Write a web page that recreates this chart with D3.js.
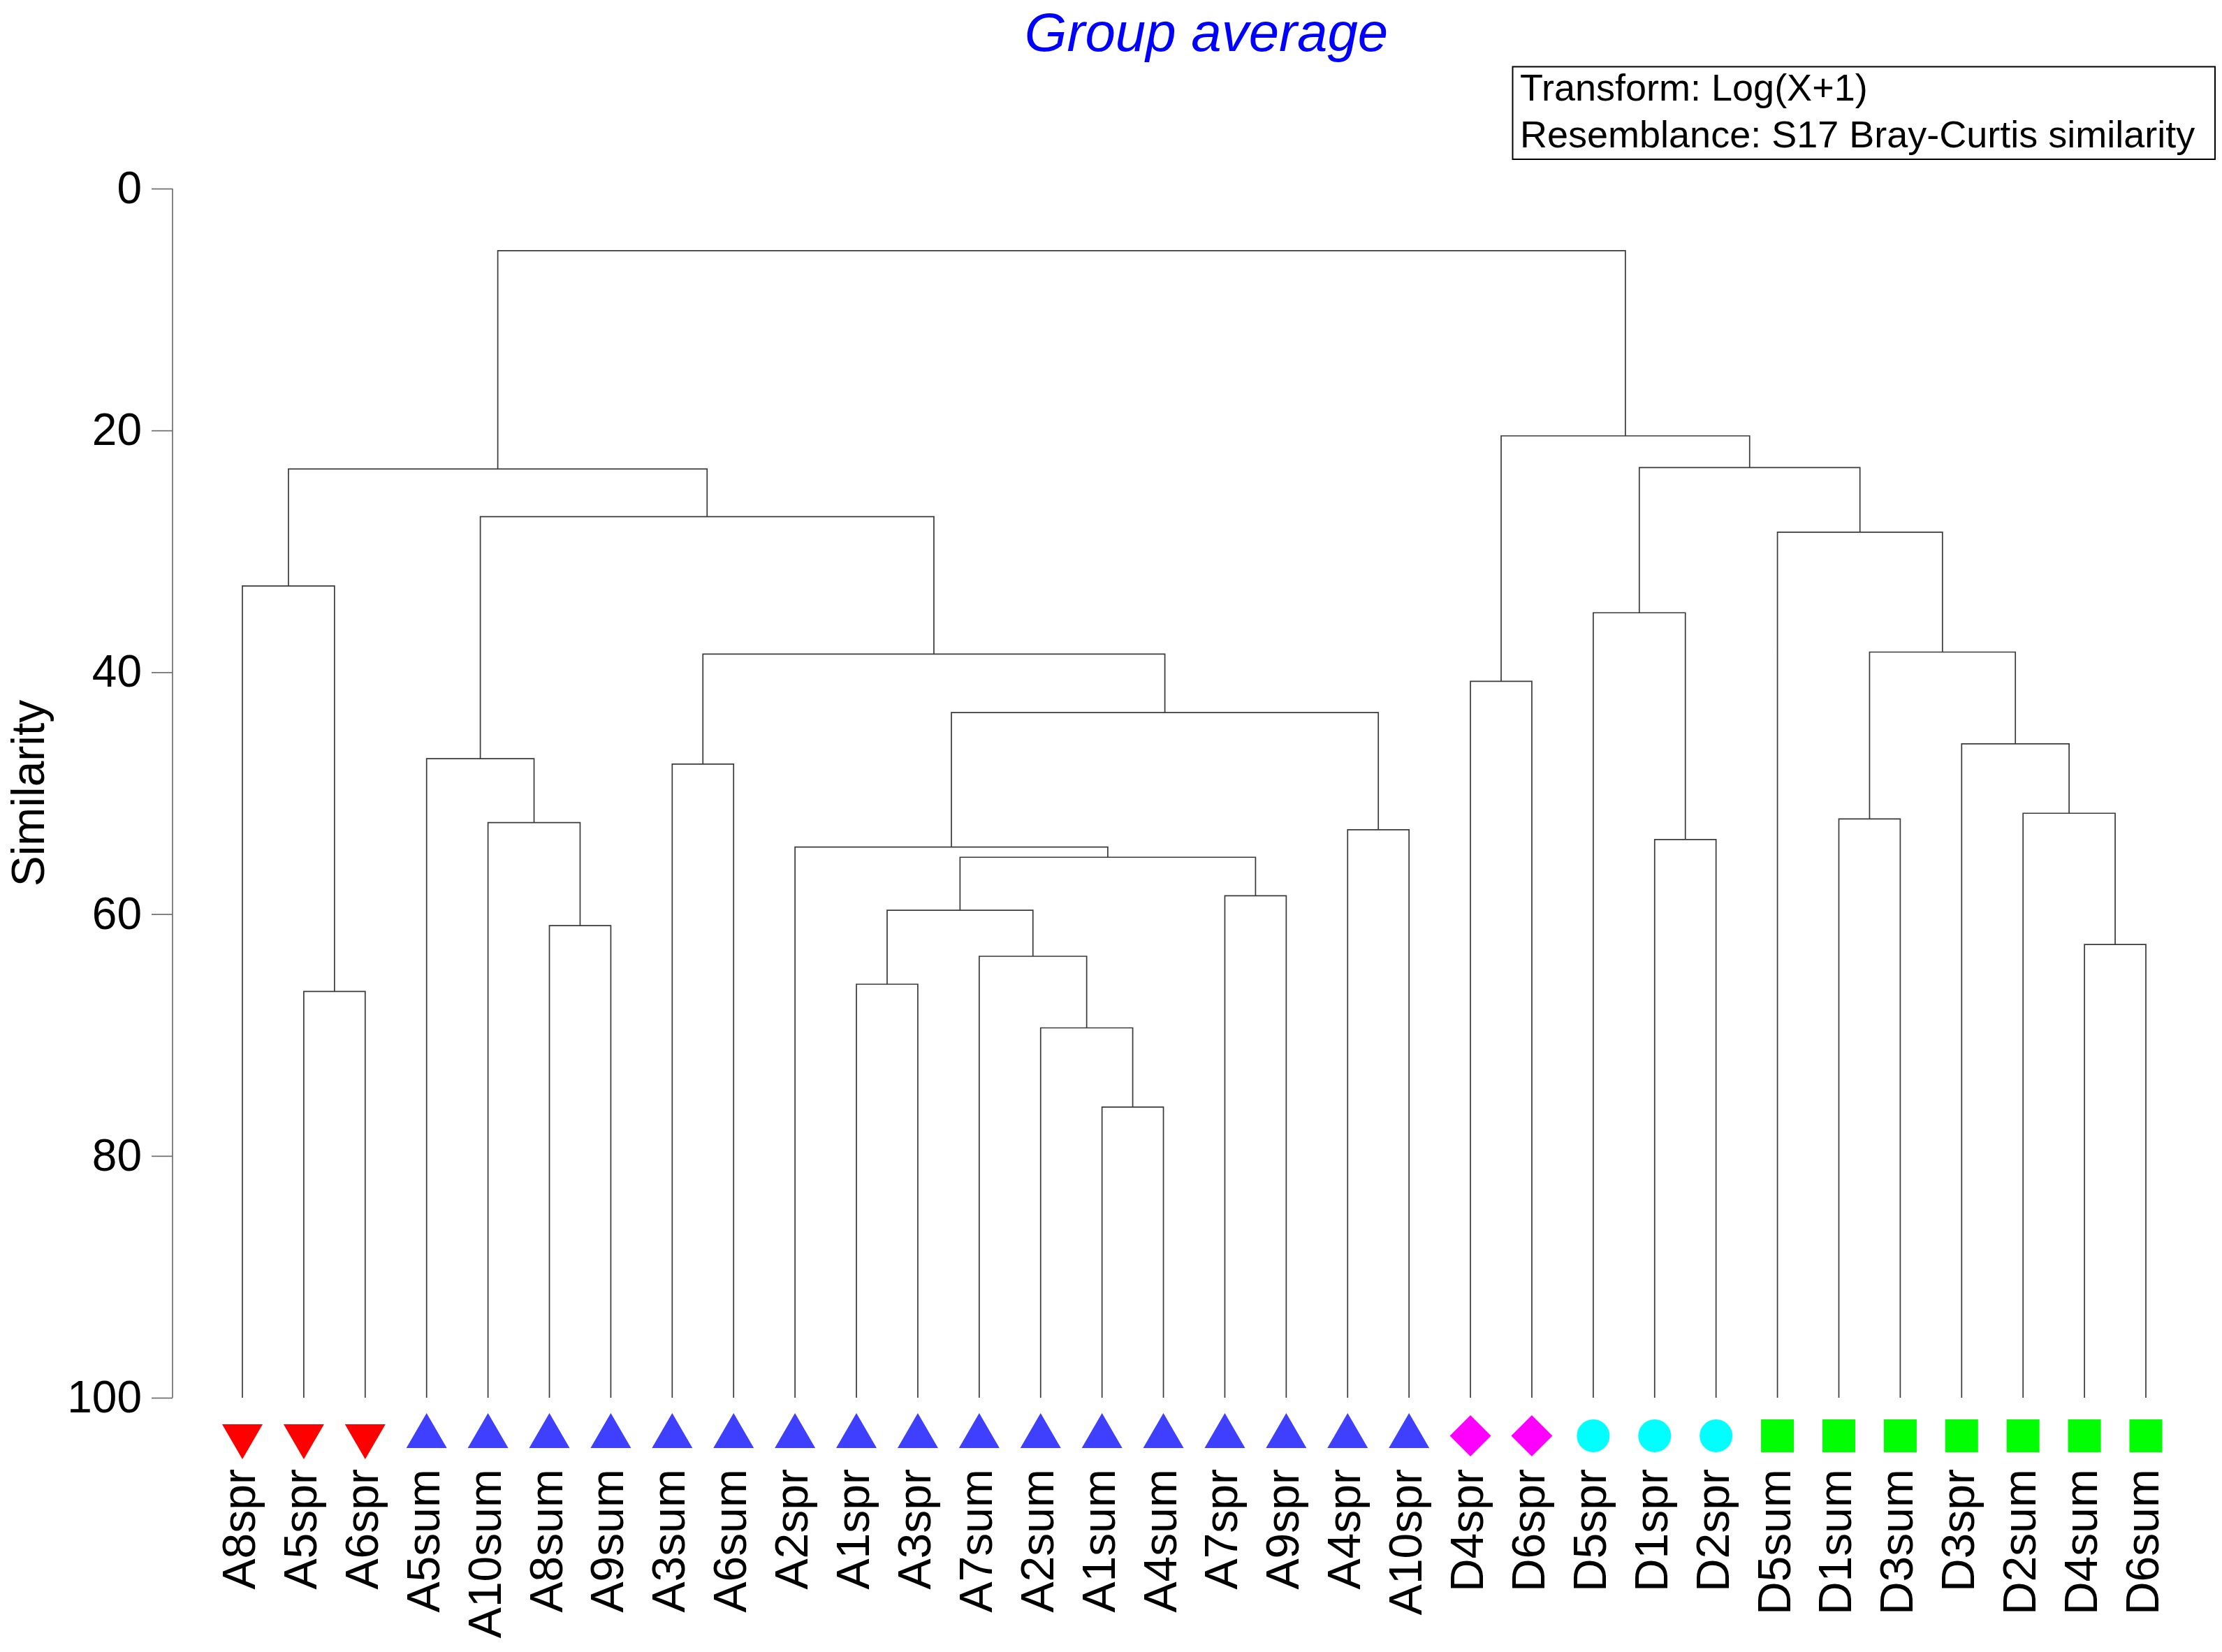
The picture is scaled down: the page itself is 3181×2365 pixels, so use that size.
<!DOCTYPE html>
<html><head><meta charset="utf-8">
<script src="https://cdn.jsdelivr.net/npm/d3@7/dist/d3.min.js"></script>
<style>
html,body{margin:0;padding:0;background:#fff;}
svg{display:block;font-family:Arial,"Liberation Sans",sans-serif;}
</style></head>
<body>
<script>
// ---- data ----
const leaves = ["A8spr","A5spr","A6spr","A5sum","A10sum","A8sum","A9sum","A3sum","A6sum","A2spr","A1spr","A3spr","A7sum","A2sum","A1sum","A4sum","A7spr","A9spr","A4spr","A10spr","D4spr","D6spr","D5spr","D1spr","D2spr","D5sum","D1sum","D3sum","D3spr","D2sum","D4sum","D6sum"];
const leafGroups = ["Aspr1","Aspr1","Aspr1","A","A","A","A","A","A","A","A","A","A","A","A","A","A","A","A","A","D1","D1","D2","D2","D2","D3","D3","D3","D3","D3","D3","D3"];
// merges: [id, left, right, similarity]
const merges = [
  ["m1","A5spr","A6spr",66.4],
  ["m2","A8spr","m1",32.86],
  ["m3","A8sum","A9sum",60.95],
  ["m4","A10sum","m3",52.43],
  ["m5","A5sum","m4",47.15],
  ["m6","A3sum","A6sum",47.6],
  ["m7","A1sum","A4sum",75.96],
  ["m8","A2sum","m7",69.41],
  ["m9","A7sum","m8",63.49],
  ["m10","A1spr","A3spr",65.8],
  ["m11","m10","m9",59.68],
  ["m12","A7spr","A9spr",58.49],
  ["m13","m11","m12",55.3],
  ["m14","A2spr","m13",54.46],
  ["m15","A4spr","A10spr",53.03],
  ["m16","m14","m15",43.33],
  ["m17","m6","m16",38.5],
  ["m18","m5","m17",27.13],
  ["m19","m2","m18",23.19],
  ["m20","D4spr","D6spr",40.75],
  ["m21","D1spr","D2spr",53.84],
  ["m22","D5spr","m21",35.08],
  ["m23","D4sum","D6sum",62.51],
  ["m24","D2sum","m23",51.66],
  ["m25","D3spr","m24",45.92],
  ["m26","D1sum","D3sum",52.13],
  ["m27","m26","m25",38.33],
  ["m28","D5sum","m27",28.41],
  ["m29","m22","m28",23.07],
  ["m30","m20","m29",20.45],
  ["m31","m19","m30",5.14]
];
const yTicks = [0,20,40,60,80,100];
const titleText = "Group average";
const yLabel = "Similarity";
const infoLines = ["Transform: Log(X+1)","Resemblance: S17 Bray-Curtis similarity"];
const groupStyle = {
  "Aspr1":{shape:"down",color:"#ff0000"},
  "A":{shape:"up",color:"#3f3fff"},
  "D1":{shape:"diamond",color:"#ff00ff"},
  "D2":{shape:"circle",color:"#00ffff"},
  "D3":{shape:"square",color:"#00ff00"}
};

// ---- drawing ----
const W=3181,H=2365;
const svg=d3.select("body").append("svg").attr("width",W).attr("height",H);
svg.append("rect").attr("width",W).attr("height",H).attr("fill","#fff");

const x=d3.scalePoint().domain(leaves).range([347,3072]);
const y=d3.scaleLinear().domain([0,100]).range([270,2001]);

// node positions
const pos={};
leaves.forEach(l=>pos[l]={x:x(l),y:y(100)});
const lineColor="#3a3a3a";
const g=svg.append("g").attr("fill","none").attr("stroke",lineColor).attr("stroke-width",1.7);
merges.forEach(([id,a,b,s])=>{
  const pa=pos[a],pb=pos[b],ys=y(s);
  g.append("path").attr("d",`M${pa.x},${pa.y}V${ys}H${pb.x}V${pb.y}`);
  pos[id]={x:(pa.x+pb.x)/2,y:ys};
});

// y axis
const ax=svg.append("g").attr("transform","translate(247,0)")
  .call(d3.axisLeft(y).tickValues(yTicks).tickSize(30).tickPadding(14).tickFormat(d3.format("d")));
ax.selectAll("path,line").attr("stroke","#6e6e6e").attr("stroke-width",1.7);
ax.select(".domain").attr("d",`M0,${y(0)}V${y(100)}`);
ax.selectAll("text").attr("font-size",64).attr("fill","#000").attr("font-family","Arial,'Liberation Sans',sans-serif");

// y label
svg.append("text").attr("transform",`translate(63,${(y(0)+y(100))/2}) rotate(-90)`)
  .attr("text-anchor","middle").attr("font-size",66).attr("fill","#000").text(yLabel);

// title
svg.append("text").attr("x",1727).attr("y",73).attr("text-anchor","middle")
  .attr("font-size",78).attr("font-style","italic").attr("fill","#0000ff").text(titleText);

// info box
svg.append("rect").attr("x",2165.5).attr("y",95.5).attr("width",1005.5).attr("height",132.5)
  .attr("fill","none").attr("stroke","#000").attr("stroke-width",2);
infoLines.forEach((t,i)=>svg.append("text").attr("x",2176).attr("y",144+i*67)
  .attr("font-size",54).attr("fill","#000").text(t));

// markers
const mg=svg.append("g");
const my=2055.5;
leaves.forEach((l,i)=>{
  const st=groupStyle[leafGroups[i]], cx=x(l);
  let el;
  if(st.shape==="down") el=mg.append("path").attr("d",`M${cx-29},${my-16.5}L${cx+29},${my-16.5}L${cx},${my+33.5}Z`);
  else if(st.shape==="up") el=mg.append("path").attr("d",`M${cx-29},${my+17.5}L${cx+29},${my+17.5}L${cx},${my-32.5}Z`);
  else if(st.shape==="diamond") el=mg.append("path").attr("d",`M${cx},${my-29.5}L${cx+29.5},${my}L${cx},${my+29.5}L${cx-29.5},${my}Z`);
  else if(st.shape==="circle") el=mg.append("circle").attr("cx",cx).attr("cy",my).attr("r",23.5);
  else el=mg.append("rect").attr("x",cx-23.5).attr("y",my-23.5).attr("width",47).attr("height",47);
  el.attr("fill",st.color);
});

// leaf labels
svg.append("g").selectAll("text").data(leaves).join("text")
  .attr("transform",d=>`translate(${x(d)+18},2103) rotate(-90)`)
  .attr("text-anchor","end").attr("font-size",66).attr("fill","#000").text(d=>d);
</script>
</body></html>
